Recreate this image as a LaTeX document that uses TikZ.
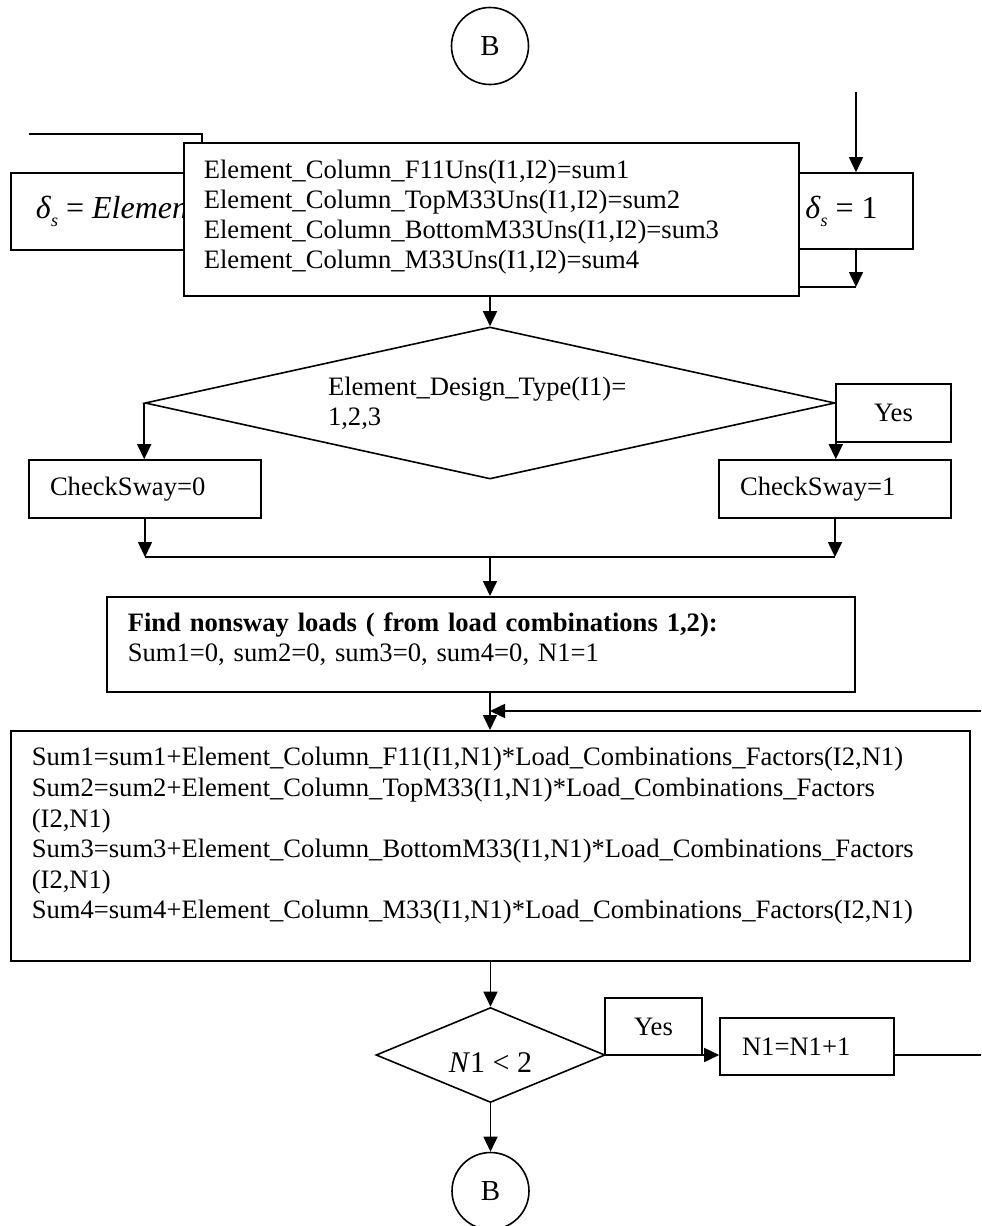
\documentclass[tikz,border=0pt]{standalone}
\usepackage{fontspec}
\setmainfont{Liberation Serif}
\usepackage{tikz}
\usetikzlibrary{shapes.geometric,arrows.meta}
\hyphenpenalty=10000
\exhyphenpenalty=10000
\newcommand{\dels}{\textit{δ}\raisebox{-0.55ex}{\fontsize{9}{9}\selectfont\textit{s}}}

\begin{document}
\begin{tikzpicture}[
    x=0.5pt, y=-0.5pt,
    every node/.style={font=\fontsize{13.3}{15}\selectfont, align=center},
    boxNode/.style={rectangle, draw, fill=white, line width=0.8pt, inner xsep=10.5pt},
    textBox/.style={boxNode, anchor=north west, align=left, inner ysep=0pt},
    deltaBox/.style={boxNode, font=\fontsize{16}{18}\selectfont, minimum height=38pt},
    swayNode/.style={boxNode, align=left, text width=95pt, minimum height=29pt},
    yesNode/.style={boxNode, minimum height=29pt},
    decNode/.style={diamond, draw, fill=white, line width=0.8pt, inner sep=0pt},
    connNode/.style={circle, draw, line width=0.8pt, minimum size=38.5pt, inner sep=0pt, font=\fontsize{14.5}{16}\selectfont},
    connArrow/.style={-{Triangle[length=7.5pt,width=7pt]}, line width=0.8pt},
    plainLine/.style={line width=0.8pt}
]
\useasboundingbox (0,0) rectangle (981,1226);

% Nodes
\node (top_b) [connNode] at (490,46) {B};
\node (ds_left) [deltaBox, anchor=north west, minimum height=38.5pt, inner xsep=12.5pt] at (10,172) {\makebox[100pt][l]{\dels\ = \textit{Element}}};
\node (ds_one) [deltaBox, minimum width=71.5pt] at (841.5,211) {\dels\ = 1};
\node (col_sums) [textBox, inner xsep=10pt, text width=287.5pt, text height=18pt, text depth=58.5pt] at (183,142) {Element\_Column\_F11Uns(I1,I2)=sum1\\Element\_Column\_TopM33Uns(I1,I2)=sum2\\Element\_Column\_BottomM33Uns(I1,I2)=sum3\\Element\_Column\_M33Uns(I1,I2)=sum4};
\node (design_type) [decNode, minimum width=345pt, minimum height=76pt, aspect=4.5, text width=162pt, align=left] at (490,403) {Element\_Design\_Type(I1)=\\1,2,3};
\node (yes_top) [yesNode, minimum width=57.5pt] at (893.5,413) {Yes};
\node (sway0) [swayNode] at (145,489) {CheckSway=0};
\node (sway1) [swayNode] at (835,489) {CheckSway=1};
\node (find_loads) [textBox, text width=353pt, text height=17.5pt, text depth=30pt] at (106,596) {\textbf{Find nonsway loads ( from load combinations 1,2):}\\Sum1=0, sum2=0, sum3=0, sum4=0, N1=1};
\node (load_sums) [textBox, font=\fontsize{13.3}{15.3}\selectfont, text width=458.5pt, text height=17.5pt, text depth=97.5pt] at (10,730) {Sum1=sum1+Element\_Column\_F11(I1,N1)*Load\_Combinations\_Factors(I2,N1)\\Sum2=sum2+Element\_Column\_TopM33(I1,N1)*Load\_Combinations\_Factors\\(I2,N1)\\Sum3=sum3+Element\_Column\_BottomM33(I1,N1)*Load\_Combinations\_Factors\\(I2,N1)\\Sum4=sum4+Element\_Column\_M33(I1,N1)*Load\_Combinations\_Factors(I2,N1)};
\node (n_check) [decNode, minimum width=114.5pt, minimum height=47.5pt, aspect=2.4, font=\fontsize{15}{18}\selectfont, text height=17pt, text depth=0pt] at (490.5,1055) {\textit{N}1 < 2};
\node (yes_low) [yesNode, minimum width=48.5pt, minimum height=28.5pt] at (653.5,1026.5) {Yes};
\node (n_incr) [boxNode, align=left, text width=65pt, inner xsep=11pt, minimum height=28.5pt] at (807,1046.5) {N1=N1+1};
\node (bot_b) [connNode] at (490.5,1191) {B};

\coordinate (left_in) at (29,134);
\coordinate (left_end) at (202,142);
\coordinate (right_in) at (856,92);
\coordinate (right_turn) at (856,287);
\coordinate (merge) at (490,557);
\coordinate (loop_out) at (981,1055);
\coordinate (loop_in) at (981,711);

% Connectors
\draw [plainLine] (left_in) -| (left_end);
\draw [connArrow] (right_in) -- (right_in |- ds_one.north);
\draw [connArrow] (right_in |- ds_one.south) -- (right_turn);
\draw [plainLine] (right_turn) -- (right_turn -| col_sums.east);
\draw [connArrow] (design_type.north |- col_sums.south) -- (design_type.north);
\draw [connArrow] (design_type.west) -- (design_type.west |- sway0.north);
\draw [connArrow] (design_type.east) -- (design_type.east |- sway1.north);
\draw [connArrow] (sway0.south) -- (sway0.south |- merge);
\draw [connArrow] (sway1.south) -- (sway1.south |- merge);
\draw [plainLine] (sway0.south |- merge) -- (sway1.south |- merge);
\draw [connArrow] (merge) -- (merge |- find_loads.north);
\draw [connArrow] (merge |- find_loads.south) -- (merge |- load_sums.north);
\draw [connArrow] (loop_in) -- (loop_in -| merge);
\draw [connArrow] (n_check.north |- load_sums.south) -- (n_check.north);
\draw [connArrow] (n_check.east) -- (n_check.east -| n_incr.west);
\draw [plainLine] (n_check.east -| n_incr.east) -- (loop_out);
\draw [connArrow] (n_check.south) -- (bot_b.north);

\end{tikzpicture}
\end{document}
